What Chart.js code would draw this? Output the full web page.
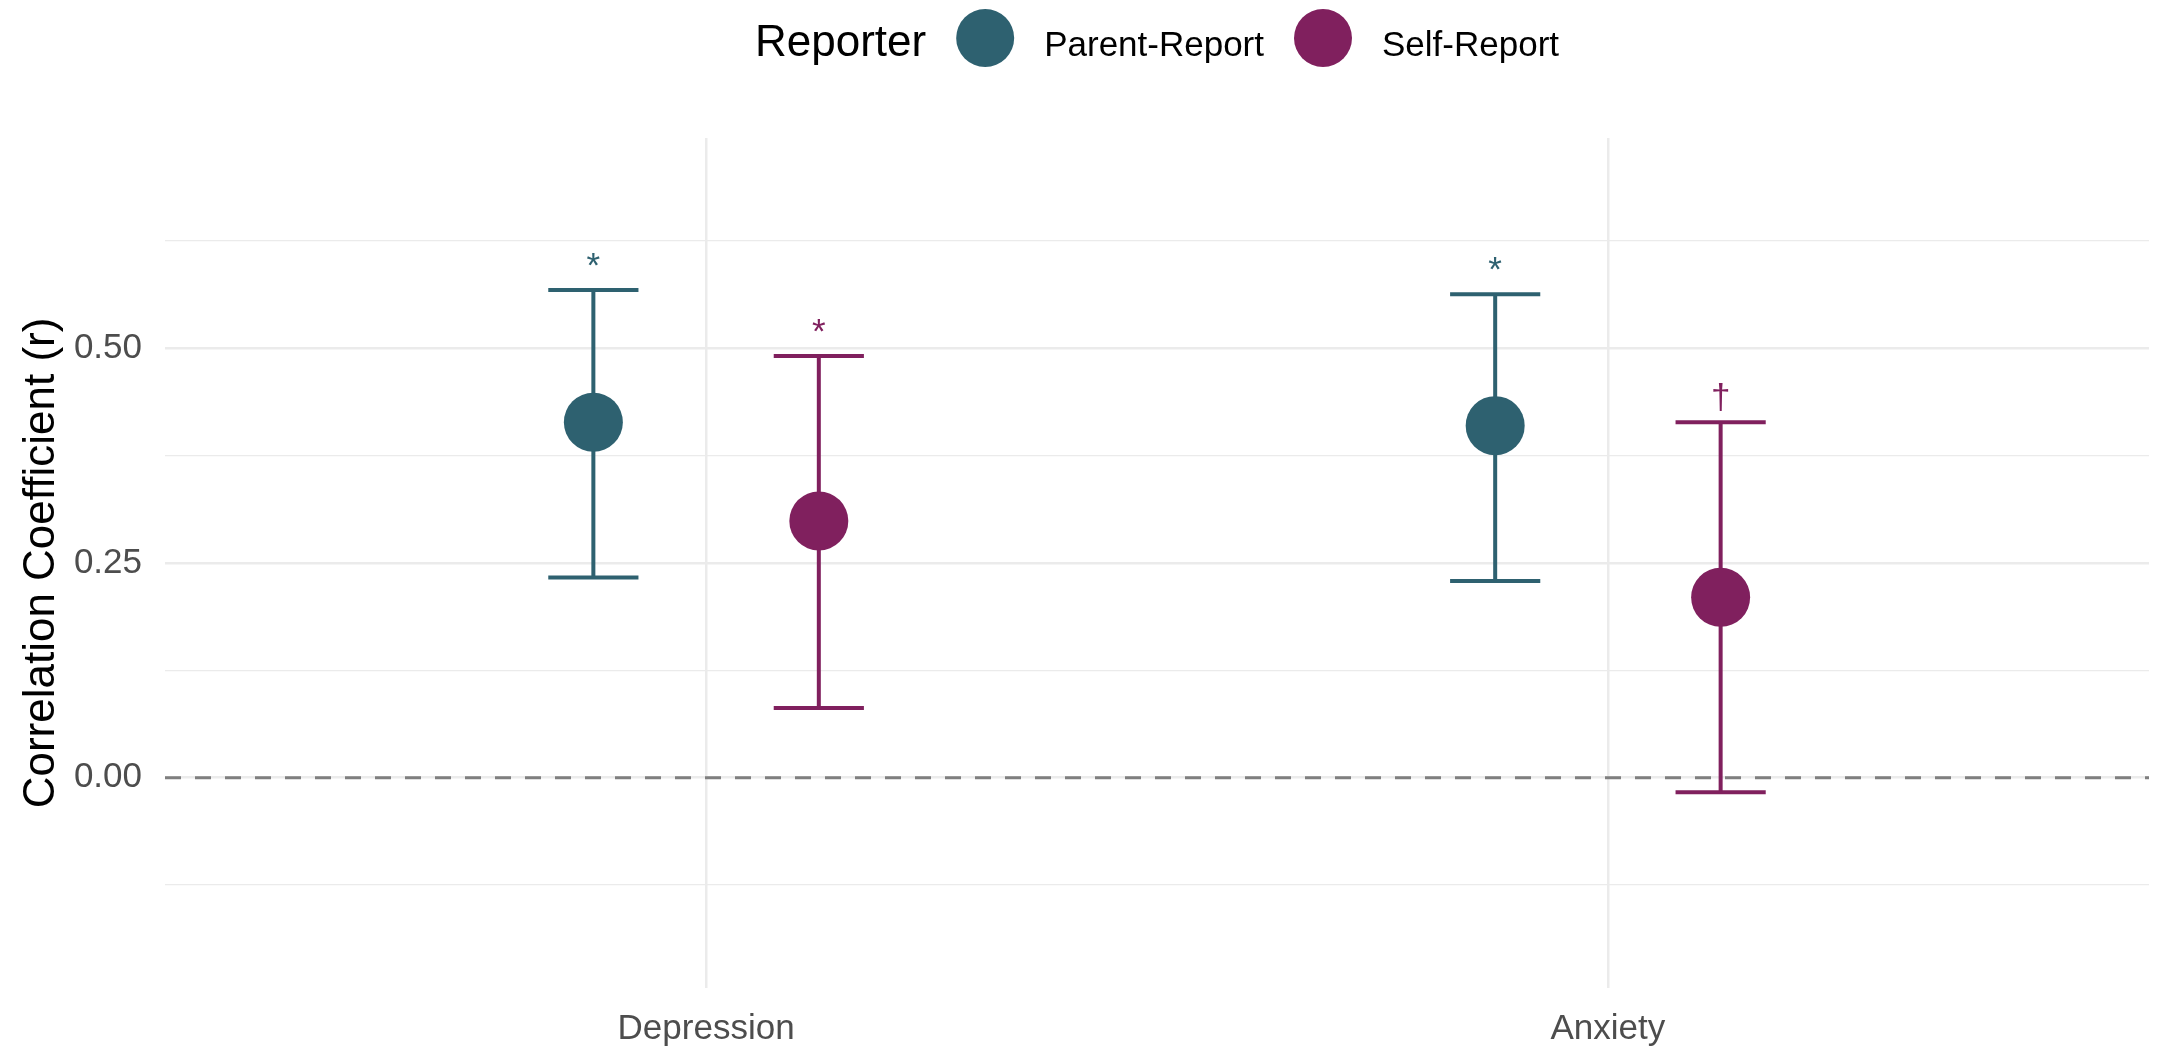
<!DOCTYPE html>
<html>
<head>
<meta charset="utf-8">
<script src="https://cdn.jsdelivr.net/npm/chart.js@4/dist/chart.umd.min.js"></script>
<style>
html,body{margin:0;padding:0;background:#ffffff;overflow:hidden}
#wrap{width:2157px;height:1047px;position:relative}
</style>
</head>
<body>
<div id="wrap"><canvas id="c" width="2157" height="1047"></canvas></div>
<script>
// ---- data ----
const categories = ['Depression', 'Anxiety'];
const seriesNames = ['Parent-Report', 'Self-Report'];
const legendTitle = 'Reporter';
const yAxisTitle = 'Correlation Coefficient (r)';

const parentR     = [0.414, 0.410];
const parentLower = [0.233, 0.229];
const parentUpper = [0.568, 0.563];
const parentSig   = ['*', '*'];

const selfR       = [0.299, 0.210];
const selfLower   = [0.081, -0.017];
const selfUpper   = [0.491, 0.414];
const selfSig     = ['*', '\u2020'];

const yMajorTicks  = [0, 0.25, 0.5];
const yTickLabels  = ['0.00', '0.25', '0.50'];
const yMinorTicks  = [-0.125, 0.125, 0.375, 0.625];
const referenceValue = 0;

// ---- styles ----
const colors = ['#2E6170', '#80205E'];
const FONT = '"Liberation Sans", Arial, Helvetica, sans-serif';
const yMin = -0.245, yMax = 0.745;
const xMin = 0.4, xMax = 2.6;
const dodge = 0.125;       // half of dodge width (category units)
const capHalf = 0.05;      // half error-bar cap width (category units)
const pointR = 29.5;
const legendR = 29;

const series = [
  {name: seriesNames[0], r: parentR, lo: parentLower, hi: parentUpper, sig: parentSig, off: -dodge, color: colors[0]},
  {name: seriesNames[1], r: selfR,   lo: selfLower,   hi: selfUpper,   sig: selfSig,   off:  dodge, color: colors[1]}
];

function errorBarData(s) {
  const d = [];
  categories.forEach((c, i) => {
    const x = i + 1 + s.off;
    d.push({x: x - capHalf, y: s.hi[i]}, {x: x + capHalf, y: s.hi[i]}, {x: x, y: null});
    d.push({x: x, y: s.hi[i]}, {x: x, y: s.lo[i]}, {x: x, y: null});
    d.push({x: x - capHalf, y: s.lo[i]}, {x: x + capHalf, y: s.lo[i]}, {x: x, y: null});
  });
  return d;
}

const datasets = [];
series.forEach(s => {
  datasets.push({
    type: 'line', label: s.name, showLine: false, order: 0,
    data: categories.map((c, i) => ({x: i + 1 + s.off, y: s.r[i]})),
    pointRadius: pointR, pointBackgroundColor: s.color, pointBorderWidth: 0,
    pointBorderColor: s.color, borderColor: s.color, backgroundColor: s.color
  });
});
series.forEach(s => {
  datasets.push({
    type: 'line', label: s.name + ' CI', order: 1, spanGaps: false,
    data: errorBarData(s), borderColor: s.color, borderWidth: 4,
    borderCapStyle: 'butt', pointRadius: 0, fill: false, tension: 0
  });
});
datasets.push({
  type: 'line', label: 'ref', order: 2,
  data: [{x: xMin, y: referenceValue}, {x: xMax, y: referenceValue}],
  borderColor: '#7F7F7F', borderWidth: 3, borderDash: [16, 14], pointRadius: 0, fill: false
});

const sigPlugin = {
  id: 'sig',
  afterDatasetsDraw(chart) {
    const ctx = chart.ctx, xs = chart.scales.x, ys = chart.scales.y;
    ctx.save();
    ctx.font = '35px ' + FONT;
    ctx.textAlign = 'center';
    ctx.textBaseline = 'alphabetic';
    series.forEach(s => {
      ctx.fillStyle = s.color;
      categories.forEach((c, i) => {
        ctx.fillText(s.sig[i], xs.getPixelForValue(i + 1 + s.off), ys.getPixelForValue(s.hi[i]) - 13);
      });
    });
    ctx.restore();
  }
};

const legendPlugin = {
  id: 'topLegend',
  afterDraw(chart) {
    const ctx = chart.ctx, area = chart.chartArea;
    ctx.save();
    const titleFont = '44px ' + FONT, itemFont = '35px ' + FONT;
    ctx.font = titleFont; const tw = ctx.measureText(legendTitle).width;
    ctx.font = itemFont;
    const iw = seriesNames.map(n => ctx.measureText(n).width);
    const gap = 30, dia = legendR * 2;
    let total = tw;
    iw.forEach(w => { total += gap + dia + gap + w; });
    let x = (area.left + area.right) / 2 - total / 2;
    const baseY = 56, cy = 38;
    ctx.fillStyle = '#000000';
    ctx.textAlign = 'left'; ctx.textBaseline = 'alphabetic';
    ctx.font = titleFont; ctx.fillText(legendTitle, x, baseY);
    x += tw;
    seriesNames.forEach((n, k) => {
      x += gap;
      ctx.beginPath(); ctx.fillStyle = colors[k];
      ctx.arc(x + legendR, cy, legendR, 0, Math.PI * 2); ctx.fill();
      x += dia + gap;
      ctx.fillStyle = '#000000'; ctx.font = itemFont;
      ctx.fillText(n, x, baseY);
      x += iw[k];
    });
    ctx.restore();
  }
};

new Chart(document.getElementById('c'), {
  type: 'line',
  data: {datasets},
  plugins: [sigPlugin, legendPlugin],
  options: {
    responsive: false, animation: false, devicePixelRatio: 1, events: [],
    layout: {autoPadding: false, padding: {top: 138, right: 8, left: 0, bottom: 0}},
    plugins: {legend: {display: false}, tooltip: {enabled: false}},
    scales: {
      x: {
        type: 'linear', min: xMin, max: xMax,
        afterBuildTicks: s => { s.ticks = categories.map((c, i) => ({value: i + 1})); },
        afterFit: s => { s.height = 59; },
        grid: {color: '#EBEBEB', lineWidth: 2.5, drawTicks: false},
        border: {display: false},
        ticks: {
          autoSkip: false, maxRotation: 0, padding: 20, color: '#4D4D4D',
          font: {family: FONT, size: 35},
          callback: v => categories[Math.round(v) - 1] || ''
        }
      },
      y: {
        type: 'linear', min: yMin, max: yMax,
        afterBuildTicks: s => {
          s.ticks = yMajorTicks.concat(yMinorTicks).sort((a, b) => a - b).map(v => ({value: v}));
        },
        afterFit: s => { s.width = 165; },
        grid: {
          color: '#EBEBEB', drawTicks: false,
          lineWidth: c => (c.tick && yMajorTicks.includes(c.tick.value)) ? 2.5 : 1.3
        },
        border: {display: false},
        ticks: {
          autoSkip: false, padding: 23, color: '#4D4D4D',
          font: {family: FONT, size: 35},
          callback: v => { const k = yMajorTicks.indexOf(v); return k >= 0 ? yTickLabels[k] : ''; }
        },
        title: {
          display: true, text: yAxisTitle, color: '#000000',
          font: {family: FONT, size: 44, lineHeight: 1.2},
          padding: {top: 15, bottom: 0}
        }
      }
    }
  }
});
</script>
</body>
</html>
